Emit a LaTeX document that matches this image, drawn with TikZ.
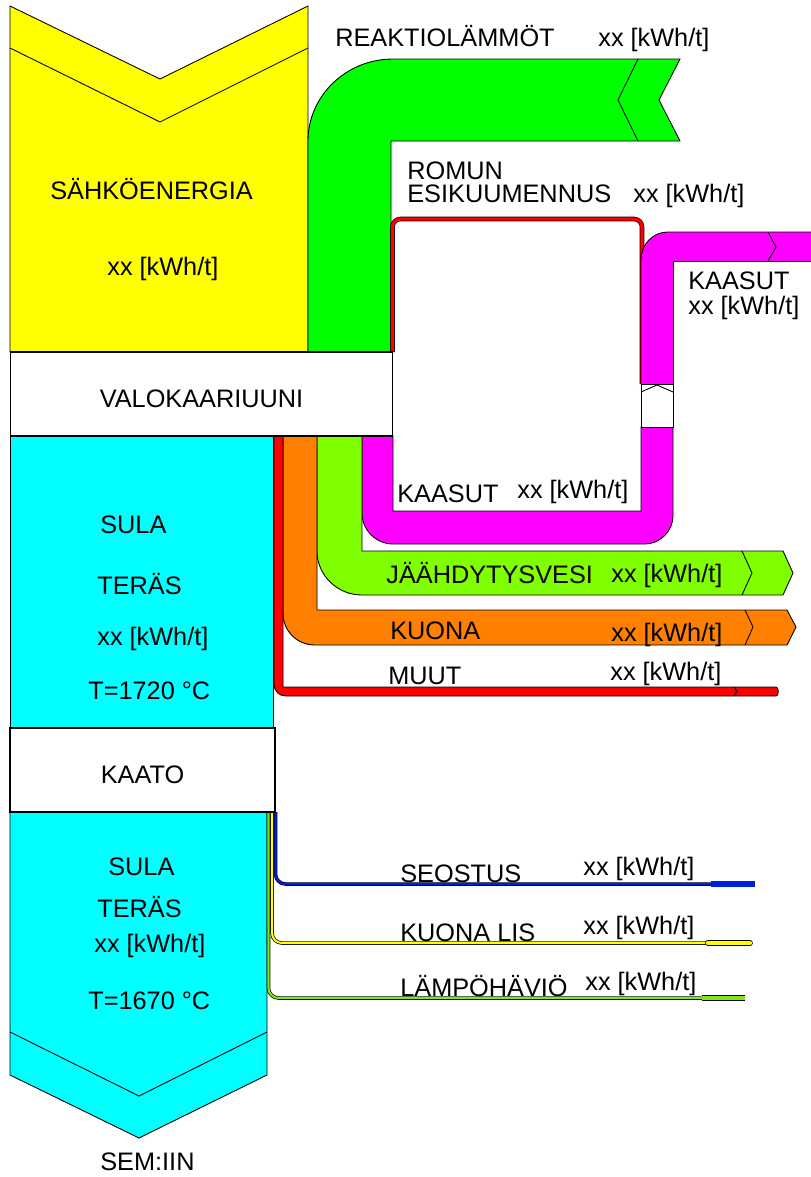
\documentclass[tikz,border=0pt]{standalone}
\usepackage{fontspec}
\setmainfont{Liberation Sans}
\definecolor{elyellow}{RGB}{255,255,0}
\definecolor{elgreen}{RGB}{0,255,0}
\definecolor{elcyan}{RGB}{0,255,255}
\definecolor{elmagenta}{RGB}{255,0,255}
\definecolor{ellime}{RGB}{128,255,0}
\definecolor{elorange}{RGB}{255,128,0}
\definecolor{elred}{RGB}{255,0,0}
\definecolor{elblue}{RGB}{0,32,224}
\definecolor{ellossline}{RGB}{130,230,20}
\tikzset{
  flow/.style={draw=black, line width=0.5pt},
  lbl/.style={anchor=base west, inner sep=0pt, font=\fontsize{14.4pt}{17pt}\selectfont},
  pipe/.style={draw=black, line width=0.4pt, double=#1, double distance=1.2pt, rounded corners=0.2cm},
  stage/.style={draw=black, line width=0.6pt, fill=white, inner sep=0pt,
    text height=14.8pt, text depth=0pt, font=\fontsize{14.4pt}{17pt}\selectfont}
}
\begin{document}
\begin{tikzpicture}[x=0.02cm, y=-0.02cm]
\useasboundingbox (0,0) rectangle (811,1177);
% inputs
\filldraw[flow, fill=elyellow] (10,6) -- (160,79) -- (308,6) -- (308,352) -- (10,352) -- cycle;
\draw[flow] (10,48) -- (160,122) -- (308,48);
\filldraw[flow, fill=elgreen] (308,352) -- (308,141) .. controls (308,96) and (346,59) .. (393,59)
  -- (680,59) -- (659,100) -- (680,141) -- (391,141) -- (391,352) -- cycle;
\draw[flow] (638,59) -- (618,100) -- (638,141);
% scrap preheating loop
\draw[pipe=elred, double distance=1.8pt, rounded corners=0.16cm] (392.5,352) -- (392.5,219) -- (642,219) -- (642,384);
\filldraw[flow, fill=elmagenta] (362,436) -- (362,513) .. controls (362,530) and (376,544) .. (393,544)
  -- (645,544) .. controls (660,544) and (673,531) .. (673,516) -- (673,427) -- (641,427)
  -- (641,511) -- (393,511) -- (393,436) -- cycle;
\fill[elmagenta] (641,384) -- (641,260) .. controls (641,244) and (653,232) .. (668,232)
  -- (811,232) -- (811,261) -- (673,261) -- (673,384) -- cycle;
\draw[flow] (811,232) -- (668,232) .. controls (653,232) and (641,244) .. (641,260) -- (641,384);
\draw[flow] (673,384) -- (673,261) -- (811,261);
\draw[flow] (768,232) -- (776,247) -- (768,261);
\filldraw[flow, fill=white] (641,384) rectangle (673,427);
\draw[flow] (641,392) -- (657,385) -- (673,392);
% outputs of the furnace
\filldraw[flow, fill=ellime] (317,436) -- (317,551) .. controls (317,575) and (337,595) .. (362,595)
  -- (783,595) -- (793,573) -- (783,551) -- (362,551) -- (362,436) -- cycle;
\draw[flow] (742,551) -- (752,573) -- (742,595);
\filldraw[flow, fill=elorange] (283,436) -- (283,613) .. controls (283,631) and (297,645) .. (315,645)
  -- (787,645) -- (796,627) -- (787,610) -- (317,610) -- (317,436) -- cycle;
\draw[flow] (745,610) -- (753,627) -- (745,645);
\filldraw[flow, fill=elred] (274,436) -- (274,684) .. controls (274,691) and (279,696) .. (286,696)
  -- (776,696) .. controls (779,696) and (779,687) .. (776,687) -- (283,687) -- (283,436) -- cycle;
\draw[flow] (734,687) -- (737,691.5) -- (734,696);
% molten steel
\filldraw[flow, fill=elcyan] (10,436) rectangle (273,728);
\filldraw[flow, fill=elcyan] (10,812) -- (267,812) -- (267,1075) -- (139,1138) -- (10,1075) -- cycle;
\draw[flow] (10,1032) -- (139,1096) -- (267,1032);
% tapping losses
\draw[pipe=ellossline] (268.5,812) -- (268.5,998) -- (702,998);
\draw[pipe=elyellow] (272,812) -- (272,943) -- (708,943);
\draw[pipe=elblue] (275.5,812) -- (275.5,884) -- (711,884);
\draw[line width=3.4pt, elblue] (711,884) -- (755,884);
\draw[line width=3.2pt, black, line cap=round] (708,943) -- (750,943);
\draw[line width=2.4pt, elyellow, line cap=round] (708,943) -- (750,943);
\draw[line width=3pt, black] (702,998) -- (745,998);
\draw[line width=2.2pt, ellossline] (702,998) -- (745,998);
% stages
\node[stage, minimum width=7.66cm, minimum height=1.68cm] (furnace) at (201.5,394) {VALOKAARIUUNI};
\node[stage, minimum width=5.3cm, minimum height=1.68cm] (tapping) at (142.5,770) {KAATO};
% labels
\node[lbl] (reakname) at (335,46) {REAKTIOL\"AMM\"OT};
\node[lbl] (reakval) at (598,46) {xx [kWh/t]};
\node[lbl] (romname) at (407,179) {ROMUN};
\node[lbl] (romname2) at (407,202) {ESIKUUMENNUS};
\node[lbl] (romval) at (633,202) {xx [kWh/t]};
\node[lbl] (elname) at (50,199) {S\"AHK\"OENERGIA};
\node[lbl] (elval) at (107,275) {xx [kWh/t]};
\node[lbl] (gasname) at (688,289) {KAASUT};
\node[lbl] (gasval) at (688,314) {xx [kWh/t]};
\node[lbl] (gasname2) at (397,502) {KAASUT};
\node[lbl] (gasval2) at (517,498) {xx [kWh/t]};
\node[lbl] (coolname) at (386,583) {J\"A\"AHDYTYSVESI};
\node[lbl] (coolval) at (611,582) {xx [kWh/t]};
\node[lbl] (slagname) at (390,639) {KUONA};
\node[lbl] (slagval) at (611,641) {xx [kWh/t]};
\node[lbl] (othname) at (388,684) {MUUT};
\node[lbl] (othval) at (610,680) {xx [kWh/t]};
\node[lbl] (melt1) at (100,533) {SULA};
\node[lbl] (melt2) at (97,594) {TER\"AS};
\node[lbl] (meltval) at (97,645) {xx [kWh/t]};
\node[lbl] (melttemp) at (88,699) {T=1720 °C};
\node[lbl] (steel1) at (108,875) {SULA};
\node[lbl] (steel2) at (97,917) {TER\"AS};
\node[lbl] (steelval) at (94,952) {xx [kWh/t]};
\node[lbl] (steeltemp) at (88,1009) {T=1670 °C};
\node[lbl] (alloyname) at (400,882) {SEOSTUS};
\node[lbl] (alloyval) at (583,875) {xx [kWh/t]};
\node[lbl] (addname) at (400,941) {KUONA LIS};
\node[lbl] (addval) at (583,934) {xx [kWh/t]};
\node[lbl] (lossname) at (400,996) {L\"AMP\"OH\"AVI\"O};
\node[lbl] (lossval) at (585,990) {xx [kWh/t]};
\node[lbl] (ladlename) at (100,1170) {SEM:IIN};
\end{tikzpicture}
\end{document}
